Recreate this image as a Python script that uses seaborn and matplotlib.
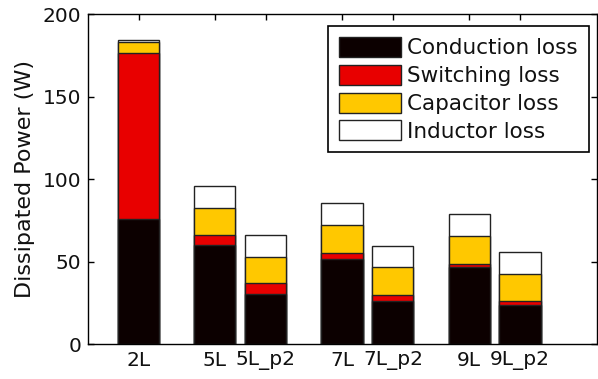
import matplotlib
matplotlib.use("Agg")
import matplotlib.pyplot as plt
import seaborn as sns
import numpy as np
from matplotlib.patches import Patch

categories = ["2L", "5L", "5L_p2", "7L", "7L_p2", "9L", "9L_p2"]
positions = [1.0, 2.2, 3.0, 4.2, 5.0, 6.2, 7.0]
conduction = [75.6, 59.8, 30.5, 51.3, 25.8, 46.5, 23.8]
switching = [100.8, 6.5, 6.5, 3.6, 3.7, 2.0, 2.3]
capacitor = [6.8, 15.9, 15.9, 17.0, 17.0, 16.8, 16.5]
inductor = [0.8, 13.6, 13.4, 13.4, 13.1, 13.3, 13.3]
series_names = ["Conduction loss", "Switching loss", "Capacitor loss", "Inductor loss"]
colors = ["#0c0000", "#e80000", "#ffc800", "#ffffff"]
yticks = [0, 50, 100, 150, 200]

sns.set_style("ticks")
plt.rcParams["font.family"] = ["DejaVu Sans"]
plt.rcParams["text.color"] = "#111111"
plt.rcParams["axes.labelcolor"] = "#111111"

fig = plt.figure(figsize=(5.98, 3.79), dpi=100)
ax = fig.add_axes([88 / 598, 1 - 344 / 379, (597 - 88) / 598, (344 - 14) / 379])

layers = [conduction, switching, capacitor, inductor]
cum = np.cumsum(np.array(layers), axis=0)
for i in range(len(layers) - 1, -1, -1):
    sns.barplot(x=positions, y=cum[i], native_scale=True, color=colors[i],
                saturation=1, width=0.81, edgecolor="#222222", linewidth=1.0,
                errorbar=None, ax=ax)

ax.set_xlim(0.205, 8.21)
ax.set_ylim(0, 200)
ax.set_xticks(positions)
ax.set_xticklabels(categories)
ax.set_yticks(yticks)
ax.set_ylabel("Dissipated Power (W)", fontsize=16, labelpad=5)
ax.tick_params(axis="both", direction="in", length=4, width=1, top=True, right=True,
               labelsize=14.5, colors="black", labelcolor="#111111", pad=5)
for s in ax.spines.values():
    s.set_visible(True)
    s.set_color("black")
    s.set_linewidth(1.0)

handles = [Patch(facecolor=c, edgecolor="#222222", linewidth=1.0) for c in colors]
leg = ax.legend(handles, series_names, loc="upper right", bbox_to_anchor=(0.984, 0.963),
                borderaxespad=0, fontsize=15.5, frameon=True, fancybox=False,
                handlelength=2.9, handleheight=1.05, handletextpad=0.3,
                labelspacing=0.3, borderpad=0.5)
leg.get_frame().set_edgecolor("black")
leg.get_frame().set_linewidth(1.2)
leg.get_frame().set_alpha(1)

fig.savefig("out.png", dpi=100)
